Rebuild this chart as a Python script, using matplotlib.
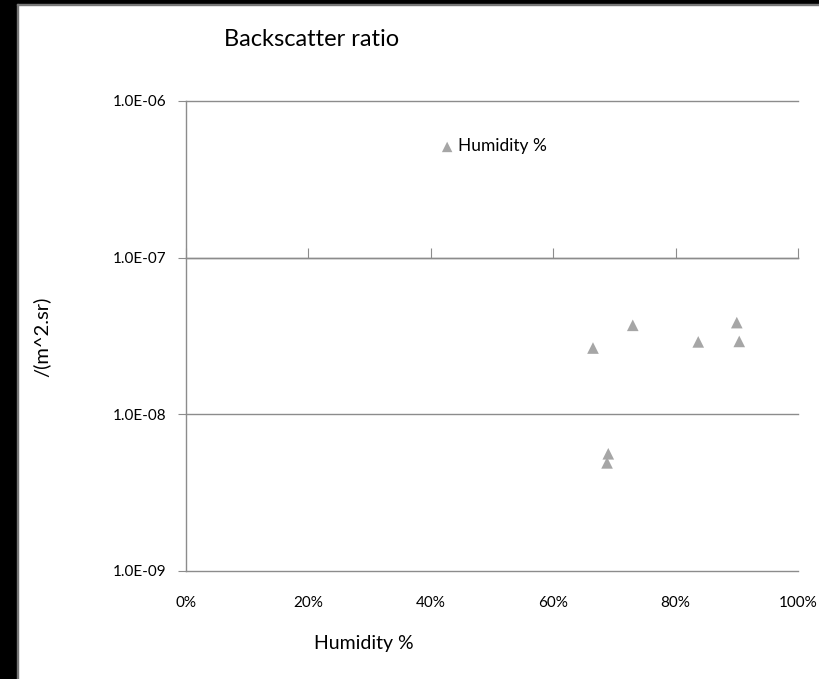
import matplotlib
matplotlib.use("Agg")
import matplotlib.pyplot as plt
import matplotlib.ticker as mticker
from matplotlib.patches import Rectangle

plt.rcParams['font.family'] = ['Lato', 'DejaVu Sans']

humidity = [0.665, 0.730, 0.837, 0.900, 0.904, 0.690, 0.688]
backscatter = [2.65e-8, 3.7e-8, 2.9e-8, 3.85e-8, 2.92e-8, 5.6e-9, 4.9e-9]
series_name = "Humidity %"
title = "Backscatter ratio"
xlabel = "Humidity %"
ylabel = "/(m^2.sr)"
yticks = [1e-9, 1e-8, 1e-7, 1e-6]
ytick_labels = ["1.0E-09", "1.0E-08", "1.0E-07", "1.0E-06"]
xticks = [0, 0.2, 0.4, 0.6, 0.8, 1.0]
xtick_labels = ["0%", "20%", "40%", "60%", "80%", "100%"]

W, H = 820, 679
fig = plt.figure(figsize=(W/100, H/100), dpi=100)
fig.patch.set_facecolor('white')

# black frame strips (screenshot border)
fig.add_artist(Rectangle((0, 0), 17/W, 1, transform=fig.transFigure, color='black', zorder=0))
fig.add_artist(Rectangle((0, 1-4/H), 1, 4/H, transform=fig.transFigure, color='black', zorder=0))
fig.add_artist(Rectangle((17/W, 0), 1.2/W, 1-4/H, transform=fig.transFigure, color='#777777', zorder=0))
fig.add_artist(Rectangle((17/W, 1-5/H), 1-17/W, 1.2/H, transform=fig.transFigure, color='#777777', zorder=0))

left, right = 186/W, 798/W
bottom, top = 1-571/H, 1-101/H
ax = fig.add_axes([left, bottom, right-left, top-bottom])
ax.set_yscale('log')
ax.set_xlim(0, 1)
ax.set_ylim(1e-9, 1e-6)

gcol = '#8c8c8c'
for sp in ['top', 'right']:
    ax.spines[sp].set_visible(False)
ax.spines['left'].set_color(gcol)
ax.spines['left'].set_linewidth(1.0)
ax.spines['bottom'].set_position(('data', 1e-7))
ax.spines['bottom'].set_color(gcol)
ax.spines['bottom'].set_linewidth(1.0)

ax.set_yticks(yticks)
ax.set_yticklabels(ytick_labels)
ax.yaxis.set_minor_locator(mticker.NullLocator())
ax.yaxis.grid(True, color=gcol, linewidth=1.0)
for gl in ax.get_ygridlines():
    gl.set_clip_on(False)
ax.tick_params(axis='y', direction='out', length=6, color=gcol, labelsize=11, pad=8)

ax.set_xticks(xticks)
ax.tick_params(axis='x', direction='in', length=7, color=gcol, labelbottom=False)

sec = ax.secondary_xaxis(0)
sec.set_xticks(xticks)
sec.set_xticklabels(xtick_labels)
sec.tick_params(axis='x', length=0, labelsize=11, pad=18)
sec.spines['bottom'].set_visible(False)

ax.scatter(humidity, backscatter, marker='^', s=70, color='#a6a6a6', edgecolors='none',
           label=series_name, zorder=3, clip_on=False)

leg = ax.legend(loc='upper left', bbox_to_anchor=(0.387, 0.935), frameon=False, fontsize=12.5,
                handletextpad=-0.4, borderaxespad=0, markerscale=0.9)

fig.text(312/W, 1-40/H, title, fontsize=17, ha='center', va='center')
fig.text(364/W, 1-643/H, xlabel, fontsize=14, ha='center', va='center')
fig.text(42/W, 1-337/H, ylabel, fontsize=14.5, ha='center', va='center', rotation=90)

fig.savefig('out.png', dpi=100)
